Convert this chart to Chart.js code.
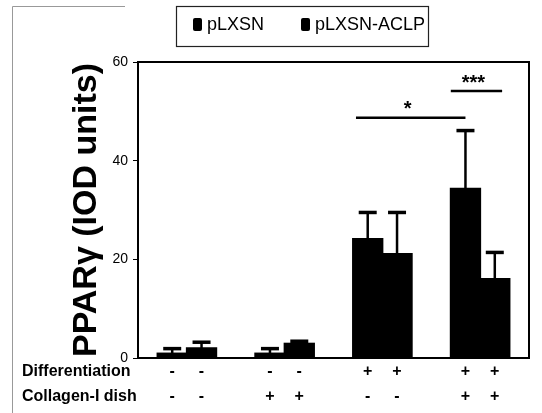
<!DOCTYPE html>
<html>
<head>
<meta charset="utf-8">
<script src="https://cdn.jsdelivr.net/npm/chart.js@4/dist/chart.umd.min.js"></script>
<style>
  html, body { margin: 0; padding: 0; background: #fff; }
  #wrap { width: 542px; height: 413px; position: relative; }
</style>
</head>
<body>
<div id="wrap"><canvas id="myChart"></canvas></div>
<script>
const groups = ["g1", "g2", "g3", "g4"];
const seriesNames = ["pLXSN", "pLXSN-ACLP"];
const pLXSN = [0.9, 0.9, 24.1, 34.3];
const pLXSNErr = [1.0, 1.0, 5.4, 11.8];
const aclp = [2.0, 2.9, 21.1, 16.0];
const aclpErr = [1.2, 0.5, 8.4, 5.4];
const yTicks = [0, 20, 40, 60];
const rowLabels = ["Differentiation", "Collagen-I dish"];
const differentiation = ["-", "-", "+", "+"];
const collagen = ["-", "+", "-", "+"];
const sigLabels = ["*", "***"];
const sigLevels = [48.7, 54.1];

document.addEventListener("DOMContentLoaded", function () {
  const ctx = document.getElementById("myChart").getContext("2d");

  const data = {
    labels: groups,
    datasets: [
      { label: seriesNames[0], data: pLXSN, err: pLXSNErr, backgroundColor: "#000" },
      { label: seriesNames[1], data: aclp, err: aclpErr, backgroundColor: "#000" },
    ],
  };

  // frame, error bars, brackets, legend and the +/- rows
  const extras = {
    id: "extras",
    afterDatasetsDraw(chart) {
      const c = chart.ctx;
      const a = chart.chartArea;
      const x = chart.scales.x;
      const y = chart.scales.y;

      c.save();
      c.strokeStyle = "#000";

      // error bars (upper only)
      chart.data.datasets.forEach(function (ds, di) {
        const meta = chart.getDatasetMeta(di);
        meta.data.forEach(function (bar, i) {
          const top = y.getPixelForValue(ds.data[i] + ds.err[i]);
          c.lineWidth = 2.5;
          c.beginPath();
          c.moveTo(bar.x, bar.y);
          c.lineTo(bar.x, top);
          c.stroke();
          c.lineWidth = 3.5;
          c.beginPath();
          c.moveTo(bar.x - 9, top);
          c.lineTo(bar.x + 9, top);
          c.stroke();
        });
      });

      // plot frame
      c.lineWidth = 2;
      c.strokeRect(a.left, a.top, a.right - a.left, a.bottom - a.top);

      // significance brackets
      const cw = x.width / groups.length;
      const bw = cw * 0.6 / 2;
      const spans = [
        [x.getPixelForValue(2) - bw * 0.9, x.getPixelForValue(3) - bw / 2],
        [x.getPixelForValue(3) - bw, x.getPixelForValue(3) + bw * 0.75],
      ];
      c.fillStyle = "#000";
      c.font = "bold 20px 'Liberation Sans', Arial, sans-serif";
      c.textAlign = "center";
      c.textBaseline = "middle";
      spans.forEach(function (s, i) {
        const py = y.getPixelForValue(sigLevels[i]);
        c.lineWidth = 2.5;
        c.beginPath();
        c.moveTo(s[0], py);
        c.lineTo(s[1], py);
        c.stroke();
        c.fillText(sigLabels[i], (s[0] + s[1]) / 2 - 3, py - 8);
      });

      // treatment rows
      c.font = "bold 16px 'Liberation Sans', Arial, sans-serif";
      const rows = [differentiation, collagen];
      const rowY = [372, 397];
      rows.forEach(function (row, r) {
        c.textAlign = "left";
        c.fillText(rowLabels[r], 22, rowY[r]);
        c.textAlign = "center";
        row.forEach(function (sign, i) {
          chart.data.datasets.forEach(function (ds, di) {
            const bar = chart.getDatasetMeta(di).data[i];
            c.fillText(sign, bar.x, rowY[r]);
          });
        });
      });

      // legend box
      c.lineWidth = 1.2;
      c.strokeStyle = "#222";
      c.strokeRect(176.5, 6.5, 252, 40);
      c.font = "18px 'Liberation Sans', Arial, sans-serif";
      c.textAlign = "left";
      const lx = [193, 301];
      seriesNames.forEach(function (name, i) {
        c.fillStyle = "#000";
        c.beginPath();
        c.roundRect(lx[i], 18, 9, 13, 2);
        c.fill();
        c.fillText(name, lx[i] + 14, 25);
      });

      // outer figure edge
      c.strokeStyle = "#999";
      c.lineWidth = 1;
      c.beginPath();
      c.moveTo(12.5, 413);
      c.lineTo(12.5, 6.5);
      c.lineTo(125, 6.5);
      c.stroke();
      c.restore();
    },
  };

  const config = {
    type: "bar",
    data: data,
    plugins: [extras],
    options: {
      responsive: true,
      maintainAspectRatio: false,
      animation: false,
      layout: { padding: { top: 62, right: 13, bottom: 47, left: 0 } },
      datasets: {
        bar: { categoryPercentage: 0.6, barPercentage: 1.0, borderWidth: 0, inflateAmount: 1 },
      },
      plugins: {
        legend: { display: false },
        tooltip: { enabled: false },
      },
      scales: {
        x: {
          grid: { display: false },
          ticks: { display: false },
          border: { color: "#000", width: 2 },
        },
        y: {
          min: 0,
          max: 60,
          afterBuildTicks: function (s) {
            s.ticks = yTicks.map((v) => ({ value: v }));
          },
          afterFit: function (s) {
            s.width = 138;
          },
          grid: { drawOnChartArea: false, drawTicks: true, tickLength: 5, color: "#000" },
          border: { color: "#000", width: 2 },
          ticks: {
            color: "#000",
            padding: 5,
            font: { family: "'Liberation Sans', Arial, sans-serif", size: 14 },
          },
          title: {
            display: true,
            text: "PPARγ (IOD units)",
            color: "#000",
            padding: { top: 66, bottom: 0 },
            font: { family: "'Liberation Sans', Arial, sans-serif", size: 34, weight: "bold" },
          },
        },
      },
    },
  };

  const progressChart = new Chart(ctx, config);
});
</script>
</body>
</html>
